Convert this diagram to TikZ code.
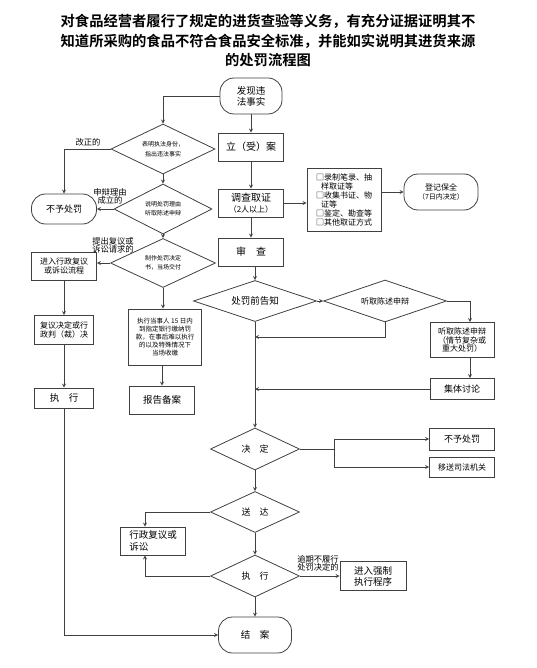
\documentclass[tikz,border=0pt]{standalone}
\usepackage{fontspec}
\setmainfont{Noto Sans CJK SC}[BoldFont={Noto Sans CJK SC Bold}]
\usepackage{tikz}
\usetikzlibrary{arrows, shapes.geometric, positioning, calc}

\begin{document}
\begin{tikzpicture}[x=1pt, y=-1pt, >=stealth,
    box/.style={draw=black!75, line width=0.8pt, inner sep=1pt, align=center},
    term/.style={box, rounded corners=14pt},
    diam/.style={draw=black!75, line width=0.8pt, diamond, aspect=2, inner sep=0pt, align=center},
    lab/.style={inner sep=0pt, align=center, font=\fontsize{8.3}{8}\selectfont},
    line/.style={draw=black!75, line width=0.8pt}]
      \useasboundingbox (0,0) rectangle (536,668);

      % TITLE
      \node[align=center, font=\bfseries\fontsize{14.3}{19.5}\selectfont] (title) at (268,41) {对食品经营者履行了规定的进货查验等义务，有充分证据证明其不\\知道所采购的食品不符合食品安全标准，并能如实说明其进货来源\\的处罚流程图};

      % START
      \node[term, minimum width=62pt, minimum height=36pt, font=\fontsize{9.5}{11}\selectfont] (start) at (251,96) {发现违\\法事实};

      % MAIN COLUMN
      \node[box, minimum width=65pt, minimum height=28pt, font=\fontsize{10}{12}\selectfont] (li) at (251,147) {立（受）案};
      \node[box, minimum width=65pt, minimum height=28pt, font=\fontsize{10}{11}\selectfont] (dc) at (251,203) {调查取证\\{\fontsize{8}{9}\selectfont（2人以上）}};
      \node[box, minimum width=65pt, minimum height=28pt, font=\fontsize{10}{12}\selectfont] (sc) at (251,252) {审\quad 查};
      \node[box, minimum width=74pt, minimum height=63pt, align=left, inner xsep=6pt, font=\fontsize{8}{9}\selectfont] (list) at (344,200) {□录制笔录、抽\\\hspace{5pt}样取证等\\□收集书证、物\\\hspace{5pt}证等\\□鉴定、勘查等\\□其他取证方式};
      \node[term, minimum width=74pt, minimum height=36pt, font=\fontsize{8}{8.5}\selectfont] (save) at (441,192) {登记保全\\{\fontsize{7}{8.5}\selectfont（7日内决定）}};

      % SIMPLE PROCEDURE
      \node[diam, minimum width=104pt, minimum height=50pt, font=\fontsize{6}{9.5}\selectfont] (d1) at (163,149) {表明执法身份，\\指出违法事实};
      \node[diam, minimum width=98pt, minimum height=50pt, font=\fontsize{6}{9}\selectfont] (d2) at (163,209) {说明处罚理由\\听取陈述申辩};
      \node[diam, minimum width=105pt, minimum height=49pt, font=\fontsize{6}{9}\selectfont] (d3) at (163,263) {制作处罚决定\\书，当场交付};
      \node[term, minimum width=65pt, minimum height=30pt, font=\fontsize{9}{10}\selectfont] (no1) at (64,209) {不予处罚};
      \node[box, minimum width=65pt, minimum height=28pt, font=\fontsize{8}{9}\selectfont] (fy) at (64,266) {进入行政复议\\或诉讼流程};
      \node[box, minimum width=59pt, minimum height=29pt, font=\fontsize{8}{9}\selectfont] (pk) at (64,330) {复议决定或行\\政判（裁）决};
      \node[box, minimum width=59pt, minimum height=20pt, font=\fontsize{9.5}{11}\selectfont] (zx1) at (64,398) {执\quad 行};
      \node[box, minimum width=73pt, minimum height=56pt, font=\fontsize{6.5}{8}\selectfont] (cash) at (165,337) {执行当事人 15 日内\\到指定银行缴纳罚\\款，在事后难以执行\\的以及特殊情况下\\当场收缴};
      \node[box, minimum width=65pt, minimum height=28pt, font=\fontsize{9.5}{11}\selectfont] (rep) at (162,400) {报告备案};

      \node[lab] (gz) at (88,142) {改正的};
      \node[lab] (sb) at (110,196) {申辩理由\\成立的};
      \node[lab] (tc) at (113,245) {提出复议或\\诉讼请求的};

      % GENERAL PROCEDURE
      \node[diam, minimum width=123pt, minimum height=41pt, font=\fontsize{9.5}{11}\selectfont] (pre) at (255,301) {处罚前告知};
      \node[diam, minimum width=123pt, minimum height=42pt, font=\fontsize{8}{9}\selectfont] (hear) at (385,301) {听取陈述申辩};
      \node[box, minimum width=64pt, minimum height=35pt, font=\fontsize{8}{8.5}\selectfont] (hbox) at (462,340) {听取陈述申辩\\（情节复杂或\\重大处罚）};
      \node[box, minimum width=64pt, minimum height=21pt, font=\fontsize{9}{10}\selectfont] (disc) at (462,389) {集体讨论};
      \node[diam, minimum width=89pt, minimum height=42pt, font=\fontsize{9}{10}\selectfont] (jd) at (255,449) {决\quad 定};
      \node[box, minimum width=65pt, minimum height=22pt, font=\fontsize{9}{10}\selectfont] (no2) at (462,439) {不予处罚};
      \node[box, minimum width=65pt, minimum height=20pt, font=\fontsize{8}{9}\selectfont] (ys) at (462,467) {移送司法机关};
      \node[diam, minimum width=89pt, minimum height=41pt, font=\fontsize{9}{10}\selectfont] (sd) at (255,512) {送\quad 达};
      \node[box, minimum width=65pt, minimum height=28pt, align=left, font=\fontsize{9.5}{11.5}\selectfont] (xz) at (153,541) {行政复议或\\诉讼};
      \node[diam, minimum width=89pt, minimum height=42pt, font=\fontsize{9}{10}\selectfont] (zx2) at (255,576) {执\quad 行};
      \node[box, minimum width=66pt, minimum height=29pt, font=\fontsize{9.5}{11}\selectfont] (qz) at (373,576) {进入强制\\执行程序};
      \node[term, minimum width=73pt, minimum height=36pt, font=\fontsize{9.5}{11}\selectfont] (end) at (255,635) {结\quad 案};
      \node[lab] (yq) at (318,563) {逾期不履行\\处罚决定的};

      % CONNECTORS, main column
      \draw[line, ->] (start) -- (li);
      \draw[line, ->] (li) -- (dc);
      \draw[line, ->] (dc) -- (sc);
      \draw[line, ->] (dc.east) -- (dc.east -| list.west);
      \draw[line, ->] (list.east |- save.west) -- (save.west);
      \draw[line, ->] (sc.south -| pre.north) -- (pre.north);

      % CONNECTORS, simple procedure
      \draw[line, ->] (start.west) -| (d1.north);
      \draw[line, ->] (d1.west) -| (no1.north);
      \draw[line, ->] (d1) -- (d2);
      \draw[line, ->] (d2) -- (d3);
      \draw[line, ->] (d2.west) -- (no1.east);
      \draw[line, ->] (d3.west) -- (d3.west -| fy.east);
      \draw[line, ->] (fy) -- (pk);
      \draw[line, ->] (pk) -- (zx1);
      \draw[line, ->] (zx1.south) |- (end.west);
      \draw[line, ->] (d3.south) -- (d3.south |- cash.north);
      \draw[line, ->] (cash.south -| rep.north) -- (rep.north);

      % CONNECTORS, general procedure
      \draw[line, ->] (pre) -- (hear);
      \draw[line, ->] (hear.east) -| ([xshift=8pt]hbox.north);
      \draw[line, ->] (hear.south) |- ([yshift=-15pt]pre.south);
      \draw[line, ->] ([xshift=8pt]hbox.south) -- ([xshift=8pt]disc.north);
      \draw[line, ->] (disc) -- (disc -| pre);
      \draw[line, ->] (pre) -- (jd);
      \draw[line, ->] (jd.east) -- ++(34,0) |- (no2.west);
      \draw[line, ->] (jd.east) -- ++(34,0) |- (ys.west);
      \draw[line, ->] (jd) -- (sd);
      \draw[line, ->] (sd.west) -| ([xshift=-8pt]xz.north);
      \draw[line, ->] (sd) -- (zx2);
      \draw[line, ->] (zx2.west) -| ([xshift=-8pt]xz.south);
      \draw[line, ->] (zx2) -- (qz);
      \draw[line, ->] (zx2) -- (end);
    \end{tikzpicture}
\end{document}
